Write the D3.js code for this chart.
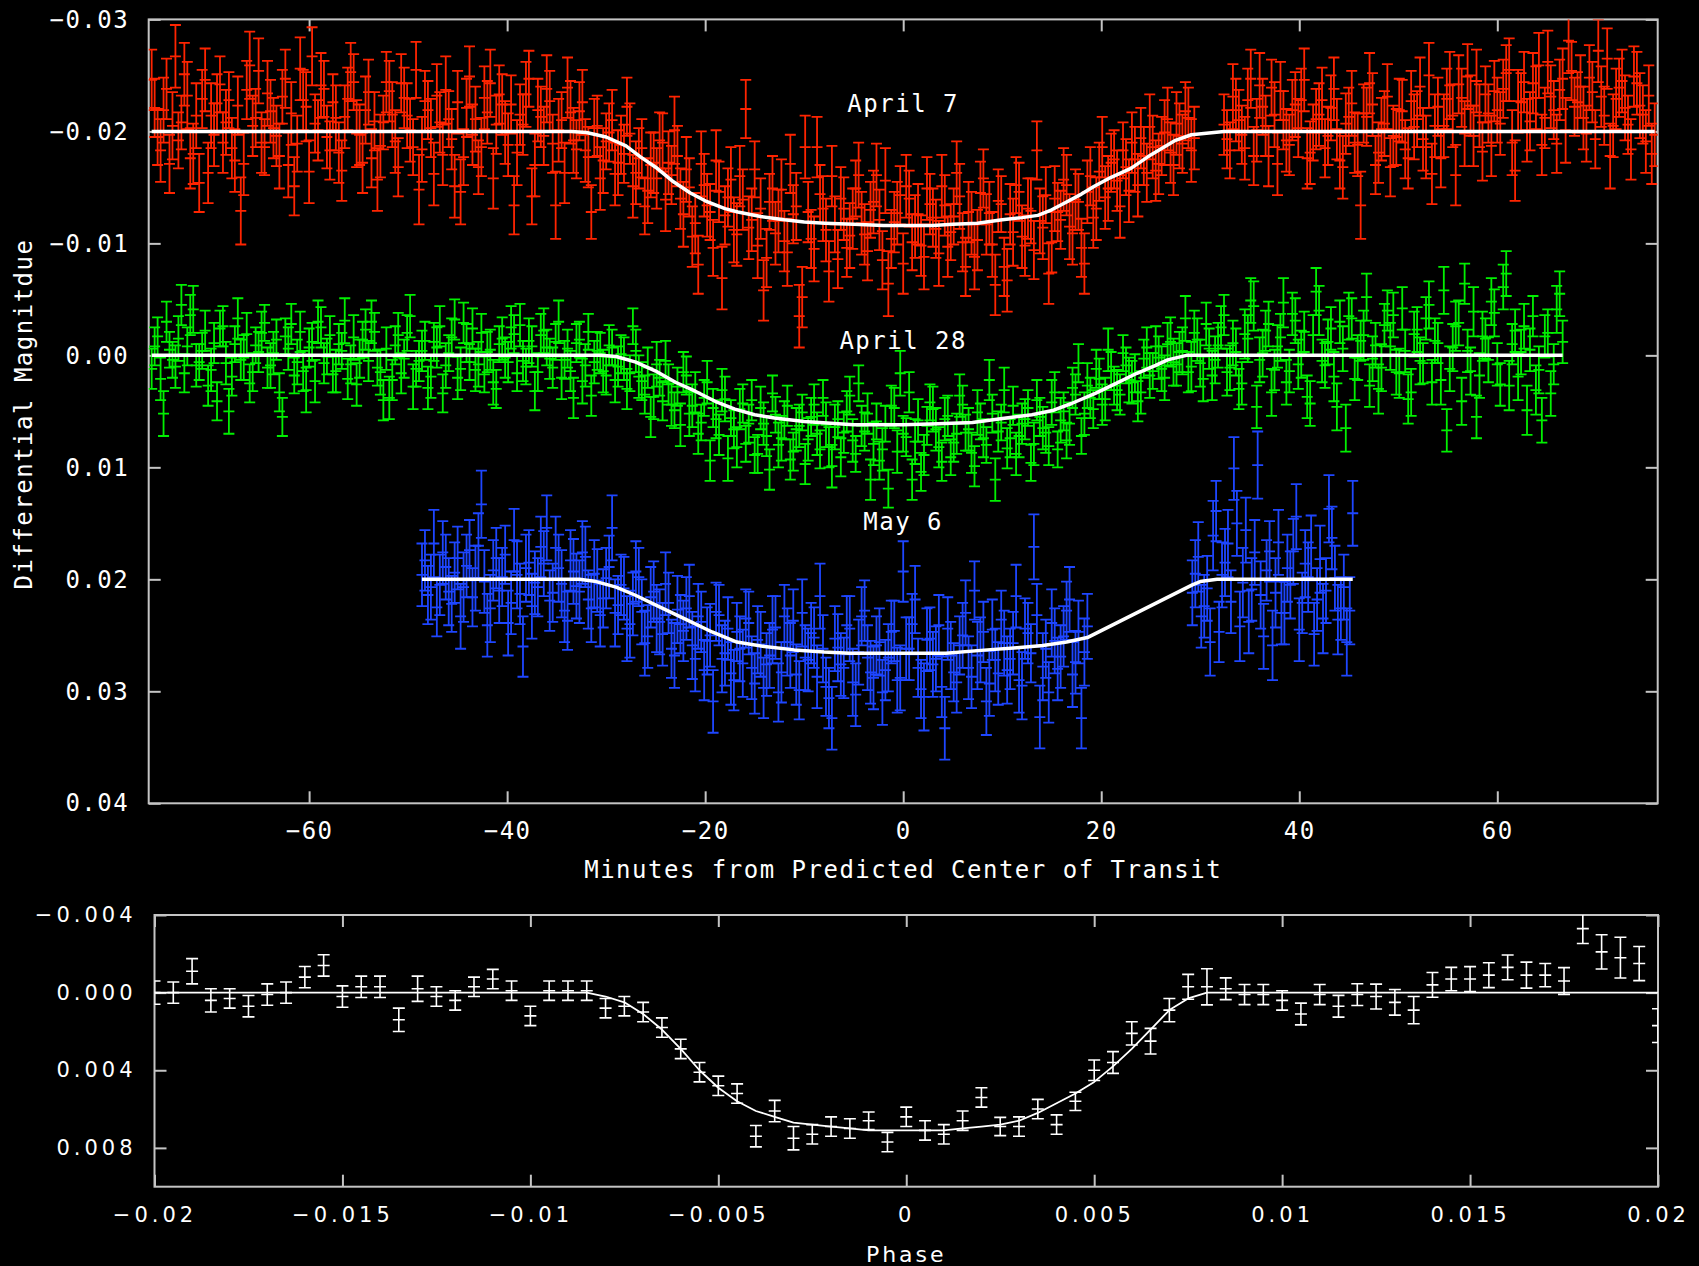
<!DOCTYPE html>
<html>
<head>
<meta charset="utf-8">
<script src="https://cdn.jsdelivr.net/npm/d3@7"></script>
<style>
html, body { margin: 0; padding: 0; background: #000; }
svg { display: block; }
</style>
</head>
<body>
<svg id="chart" width="1699" height="1266"></svg>
<script>
// ---- data (magnitudes and errors in units of 0.0001 mag) ----
// each night has two interleaved frame sets (A and B)

// April 7
var redTime = [
-75.9,-75.3,-74.7,-74.1,-73.5,-72.9,-72.3,-71.7,-71.1,-70.5,
-69.9,-69.3,-68.7,-68.1,-67.5,-66.9,-66.3,-65.7,-65.1,-64.5,
-63.9,-63.3,-62.7,-62.1,-61.5,-60.9,-60.3,-59.7,-59.1,-58.5,
-57.9,-57.3,-56.7,-56.1,-55.5,-54.9,-54.3,-53.7,-53.1,-52.5,
-51.9,-51.3,-50.7,-50.1,-49.5,-48.9,-48.3,-47.7,-47.1,-46.5,
-45.9,-45.3,-44.7,-44.1,-43.5,-42.9,-42.3,-41.7,-41.1,-40.5,
-39.9,-39.3,-38.7,-38.1,-37.5,-36.9,-36.3,-35.7,-35.1,-34.5,
-33.9,-33.3,-32.7,-32.1,-31.5,-30.9,-30.3,-29.7,-29.1,-28.5,
-27.9,-27.3,-26.7,-26.1,-25.5,-24.9,-24.3,-23.7,-23.1,-22.5,
-21.9,-21.3,-20.7,-20.1,-19.5,-18.9,-18.3,-17.7,-17.1,-16.5,
-15.9,-15.3,-14.7,-14.1,-13.5,-12.9,-12.3,-11.7,-11.1,-10.5,
-9.9,-9.3,-8.7,-8.1,-7.5,-6.9,-6.3,-5.7,-5.1,-4.5,
-3.9,-3.3,-2.7,-2.1,-1.5,-0.9,-0.3,0.3,0.9,1.5,
2.1,2.7,3.3,3.9,4.5,5.1,5.7,6.3,6.9,7.5,
8.1,8.7,9.3,9.9,10.5,11.1,11.7,12.3,12.9,13.5,
14.1,14.7,15.3,15.9,16.5,17.1,17.7,18.3,18.9,19.5,
20.1,20.7,21.3,21.9,22.5,23.1,23.7,24.3,24.9,25.5,
26.1,26.7,27.3,27.9,28.5,29.1,
32.4,33.0,33.6,34.2,34.8,35.4,36.0,36.6,37.2,37.8,
38.4,39.0,39.6,40.2,40.8,41.4,42.0,42.6,43.2,43.8,
44.4,45.0,45.6,46.2,46.8,47.4,48.0,48.6,49.2,49.8,
50.4,51.0,51.6,52.2,52.8,53.4,54.0,54.6,55.2,55.8,
56.4,57.0,57.6,58.2,58.8,59.4,60.0,60.6,61.2,61.8,
62.4,63.0,63.6,64.2,64.8,65.4,66.0,66.6,67.2,67.8,
68.4,69.0,69.6,70.2,70.8,71.4,72.0,72.6,73.2,73.8,
74.4,75.0,75.6
];
var redMag = [
-246,-195,-219,-171,-267,-208,-232,-180,-154,-246,
-214,-225,-190,-228,-174,-129,-237,-205,-254,-186,
-218,-196,-231,-170,-151,-256,-222,-267,-201,-238,
-183,-212,-165,-229,-244,-197,-219,-176,-157,-208,
-236,-191,-243,-214,-186,-148,-227,-203,-232,-179,
-211,-151,-146,-221,-197,-168,-230,-243,-206,-224,
-188,-134,-215,-233,-142,-219,-196,-227,-134,-210,
-239,-192,-218,-183,-128,-205,-174,-199,-162,-188,
-222,-151,-176,-133,-170,-158,-190,-172,-201,-140,
-166,-106,-81,-152,-128,-174,-69,-141,-112,-160,
-220,-121,-98,-58,-137,-109,-148,-92,-126,-35,
-186,-104,-186,-131,-75,-117,-140,-96,-122,-161,
-108,-130,-161,-85,-64,-119,-143,-151,-101,-126,
-88,-135,-113,-151,-97,-124,-142,-79,-118,-103,
-158,-127,-63,-135,-67,-110,-146,-98,-129,-183,
-114,-73,-140,-121,-152,-109,-137,-82,-160,-131,
-186,-149,-175,-133,-168,-190,-152,-178,-204,-165,
-187,-211,-170,-196,-218,-183,
-206,-183,-219,-197,-228,-178,-241,-205,-239,-171,
-210,-188,-224,-228,-176,-199,-215,-185,-221,-202,
-168,-213,-190,-134,-213,-224,-181,-207,-168,-195,
-218,-176,-204,-240,-186,-162,-222,-205,-241,-161,
-230,-249,-196,-214,-233,-187,-219,-238,-255,-165,
-226,-201,-243,-259,-212,-231,-189,-247,-281,-222,
-240,-198,-235,-272,-214,-178,-229,-245,-206,-249,
-223,-191,-180
];
var redErr = [
27,25,29,26,28,24,30,27,26,28,
29,26,27,25,28,30,26,27,29,25,
28,27,24,29,26,28,31,26,27,25,
26,29,27,28,25,27,30,26,28,24,
27,28,26,29,25,31,27,26,28,27,
25,28,29,26,27,24,28,30,26,27,
28,26,27,29,25,28,26,27,30,25,
27,29,26,28,24,27,29,26,28,26,
26,28,27,25,29,27,26,28,30,27,
29,27,26,28,25,27,28,26,29,27,
26,28,29,27,25,28,27,30,26,28,
28,26,27,29,27,25,28,26,27,29,
27,25,28,26,29,27,26,28,25,27,
29,27,26,28,27,25,29,26,28,27,
26,28,27,25,28,30,26,27,29,26,
28,27,29,26,27,28,25,27,26,28,
27,29,26,28,25,27,28,26,29,27,
26,28,27,29,26,28,27,25,28,26,
28,26,29,27,25,28,26,27,29,28,
27,25,28,26,29,27,28,26,27,30,
26,28,27,29,26,25,28,27,29,26,
28,27,26,28,30,27,26,29,27,28,
25,27,29,26,28,27,26,28,27,29,
27,28,26,27,29,26,28,25,27,28,
26,29,27,28,26,27,29,28,27
];
var redTimeB = [
-75.6,-75.0,-74.4,-73.8,-73.2,-72.6,-72.0,-71.4,-70.8,-70.2,
-69.6,-69.0,-68.4,-67.8,-67.2,-66.6,-66.0,-65.4,-64.8,-64.2,
-63.6,-63.0,-62.4,-61.8,-61.2,-60.6,-60.0,-59.4,-58.8,-58.2,
-57.6,-57.0,-56.4,-55.8,-55.2,-54.6,-54.0,-53.4,-52.8,-52.2,
-51.6,-51.0,-50.4,-49.8,-49.2,-48.6,-48.0,-47.4,-46.8,-46.2,
-45.6,-45.0,-44.4,-43.8,-43.2,-42.6,-42.0,-41.4,-40.8,-40.2,
-39.6,-39.0,-38.4,-37.8,-37.2,-36.6,-36.0,-35.4,-34.8,-34.2,
-33.6,-33.0,-32.4,-31.8,-31.2,-30.6,-30.0,-29.4,-28.8,-28.2,
-27.6,-27.0,-26.4,-25.8,-25.2,-24.6,-24.0,-23.4,-22.8,-22.2,
-21.6,-21.0,-20.4,-19.8,-19.2,-18.6,-18.0,-17.4,-16.8,-16.2,
-15.6,-15.0,-14.4,-13.8,-13.2,-12.6,-12.0,-11.4,-10.8,-10.2,
-9.6,-9.0,-8.4,-7.8,-7.2,-6.6,-6.0,-5.4,-4.8,-4.2,
-3.6,-3.0,-2.4,-1.8,-1.2,-0.6,0.0,0.6,1.2,1.8,
2.4,3.0,3.6,4.2,4.8,5.4,6.0,6.6,7.2,7.8,
8.4,9.0,9.6,10.2,10.8,11.4,12.0,12.6,13.2,13.8,
14.4,15.0,15.6,16.2,16.8,17.4,18.0,18.6,19.2,19.8,
20.4,21.0,21.6,22.2,22.8,23.4,24.0,24.6,25.2,25.8,
26.4,27.0,27.6,28.2,28.8,29.4,
32.7,33.3,33.9,34.5,35.1,35.7,36.3,36.9,37.5,38.1,
38.7,39.3,39.9,40.5,41.1,41.7,42.3,42.9,43.5,44.1,
44.7,45.3,45.9,46.5,47.1,47.7,48.3,48.9,49.5,50.1,
50.7,51.3,51.9,52.5,53.1,53.7,54.3,54.9,55.5,56.1,
56.7,57.3,57.9,58.5,59.1,59.7,60.3,60.9,61.5,62.1,
62.7,63.3,63.9,64.5,65.1,65.7,66.3,66.9,67.5,68.1,
68.7,69.3,69.9,70.5,71.1,71.7,72.3,72.9,73.5,74.1,
74.7,75.3,75.9
];
var redMagB = [
-221,-183,-238,-205,-192,-251,-176,-214,-229,-163,
-197,-242,-208,-185,-223,-171,-259,-212,-190,-234,
-203,-178,-247,-216,-189,-228,-164,-207,-241,-195,
-226,-181,-213,-253,-198,-172,-235,-209,-187,-244,
-215,-168,-230,-201,-255,-184,-219,-162,-208,-237,
-193,-226,-177,-249,-211,-186,-217,-158,-233,-199,
-224,-181,-206,-247,-170,-213,-238,-189,-201,-163,
-217,-184,-226,-177,-203,-158,-191,-210,-172,-180,
-198,-163,-185,-147,-172,-192,-139,-161,-178,-126,
-150,-118,-171,-134,-96,-146,-125,-157,-108,-139,
-114,-166,-131,-87,-149,-120,-102,-171,-133,-52,
-128,-95,-144,-112,-160,-86,-131,-107,-149,-118,
-93,-137,-121,-156,-104,-127,-82,-140,-115,-98,
-149,-123,-91,-134,-110,-163,-101,-128,-88,-145,
-117,-99,-138,-79,-126,-152,-106,-131,-94,-120,
-143,-101,-128,-157,-115,-139,-96,-146,-123,-164,
-141,-172,-156,-183,-147,-175,-194,-163,-186,-171,
-199,-181,-207,-189,-212,-194,
-193,-231,-210,-185,-247,-201,-222,-178,-215,-236,
-192,-219,-203,-246,-181,-211,-228,-196,-238,-174,
-207,-225,-188,-216,-243,-170,-202,-231,-196,-219,
-184,-227,-211,-193,-250,-205,-176,-229,-214,-242,
-198,-223,-245,-182,-216,-236,-207,-252,-190,-227,
-244,-209,-230,-188,-262,-219,-237,-201,-254,-226,
-212,-248,-193,-231,-265,-205,-239,-221,-184,-243,
-215,-232,-197
];
var redErrB = [
26,28,27,30,25,28,27,29,26,27,
28,25,29,27,26,28,30,26,27,29,
27,29,26,28,25,27,28,26,29,28,
25,27,28,26,30,27,29,26,28,27,
29,26,27,28,25,29,26,28,27,30,
27,28,25,27,29,26,28,27,26,28,
26,29,27,25,28,27,30,26,28,27,
28,26,29,27,26,28,25,27,29,26,
27,28,26,29,27,25,28,26,27,29,
26,27,29,28,25,27,26,29,28,27,
28,25,27,26,29,28,27,26,30,27,
27,29,26,28,27,26,28,29,25,28,
26,28,27,29,26,28,27,25,28,27,
28,26,29,27,25,28,26,27,29,28,
27,29,28,26,27,25,28,27,26,29,
25,27,26,28,29,27,26,28,27,26,
28,26,27,25,28,29,27,26,28,27,
29,27,28,26,27,28,26,29,27,28,
26,28,25,27,29,26,28,27,26,28,
28,27,29,26,28,25,27,29,28,26,
27,26,28,29,27,28,26,27,25,28,
29,28,26,27,28,26,29,27,28,26,
26,27,28,25,29,28,27,26,28,27,
28,26,27,29,26,27,28,29,26,27,
27,28,26,29,27,28,26,27,28
];
var redModelTime = [-75.9,-33.5,-32,-30,-28,-26.5,-25,-23.2,-21.5,-20,-18,-16.7,-14.4,-12,-10,-7.9,-5,-2,0,3,5,7.5,10,12,13.6,15,16.5,18,19.3,21,23,25,27.5,29.1,32.4,75.9];
var redModelMag = [-200,-200,-199,-195,-187,-177,-168,-155,-145,-138,-131,-128,-124,-121,-119,-118,-117,-116,-116,-116,-117,-118,-121,-123,-125,-130,-137,-144,-151,-159,-167,-179,-192,-197,-200,-200];

// April 28
var greenTime = [
-75.9,-75.3,-74.7,-74.1,-73.5,-72.9,-72.3,-71.7,-71.1,-70.5,
-69.9,-69.3,-68.7,-68.1,-67.5,-66.9,-66.3,-65.7,-65.1,-64.5,
-63.9,-63.3,-62.7,-62.1,-61.5,-60.9,-60.3,-59.7,-59.1,-58.5,
-57.9,-57.3,-56.7,-56.1,-55.5,-54.9,-54.3,-53.7,-53.1,-52.5,
-51.9,-51.3,-50.7,-50.1,-49.5,-48.9,-48.3,-47.7,-47.1,-46.5,
-45.9,-45.3,-44.7,-44.1,-43.5,-42.9,-42.3,-41.7,-41.1,-40.5,
-39.9,-39.3,-38.7,-38.1,-37.5,-36.9,-36.3,-35.7,-35.1,-34.5,
-33.9,-33.3,-32.7,-32.1,-31.5,-30.9,-30.3,-29.7,-29.1,-28.5,
-27.9,-27.3,-26.7,-26.1,-25.5,-24.9,-24.3,-23.7,-23.1,-22.5,
-21.9,-21.3,-20.7,-20.1,-19.5,-18.9,-18.3,-17.7,-17.1,-16.5,
-15.9,-15.3,-14.7,-14.1,-13.5,-12.9,-12.3,-11.7,-11.1,-10.5,
-9.9,-9.3,-8.7,-8.1,-7.5,-6.9,-6.3,-5.7,-5.1,-4.5,
-3.9,-3.3,-2.7,-2.1,-1.5,-0.9,-0.3,0.3,0.9,1.5,
2.1,2.7,3.3,3.9,4.5,5.1,5.7,6.3,6.9,7.5,
8.1,8.7,9.3,9.9,10.5,11.1,11.7,12.3,12.9,13.5,
14.1,14.7,15.3,15.9,16.5,17.1,17.7,18.3,18.9,19.5,
20.1,20.7,21.3,21.9,22.5,23.1,23.7,24.3,24.9,25.5,
26.1,26.7,27.3,27.9,28.5,29.1,29.7,30.3,30.9,31.5,
32.1,32.7,33.3,33.9,34.5,35.1,35.7,36.3,36.9,37.5,
38.1,38.7,39.3,39.9,40.5,41.1,41.7,42.3,42.9,43.5,
44.1,44.7,45.3,45.9,46.5,47.1,47.7,48.3,48.9,49.5,
50.1,50.7,51.3,51.9,52.5,53.1,53.7,54.3,54.9,55.5,
56.1,56.7,57.3,57.9,58.5,59.1,59.7,60.3,60.9,61.5,
62.1,62.7,63.3,63.9,64.5,65.1,65.7,66.3
];
var greenMag = [
12,-17,52,-5,10,-45,-8,-41,6,-22,
13,41,-26,50,-10,4,-19,15,-3,-29,
9,-14,55,-6,18,-21,31,-12,-30,7,
-18,14,-4,21,-16,3,-23,-30,11,40,
38,-9,16,-20,28,5,-13,19,-7,34,
-2,-32,12,-11,-24,8,17,-5,30,-15,
6,-19,-27,10,-8,15,-22,3,-12,20,
-6,38,-14,9,36,-4,14,-9,22,-1,
30,-26,19,35,55,8,41,26,49,62,
18,45,70,38,94,57,31,92,66,48,
79,40,88,61,102,53,74,45,86,63,
97,55,70,38,82,64,91,50,76,25,
68,111,59,84,119,47,16,73,111,58,
89,42,66,95,54,78,36,69,87,51,
74,22,111,60,83,45,72,57,96,40,
65,81,33,58,76,29,7,52,38,12,
44,-5,27,35,9,24,41,3,18,-8,
12,-10,6,-3,-33,10,-14,21,-6,4,
-25,15,-11,30,-19,-49,46,-2,-28,13,
-16,24,-37,8,-21,43,-57,5,-12,19,
-30,65,-33,2,-18,27,-9,11,-40,-36,
16,-4,33,-23,7,-45,-13,22,67,-7,
-29,-64,14,55,-17,4,-38,26,-73,-10,
19,-26,-5,31,58,-20,8,-55
];
var greenErr = [
18,17,20,16,19,18,17,21,16,18,
19,17,18,20,16,18,19,17,18,16,
20,18,17,19,16,18,20,17,19,18,
17,19,16,18,20,17,18,19,16,18,
19,17,18,16,20,18,17,19,18,17,
16,18,19,17,18,20,16,18,17,19,
18,17,19,16,18,17,20,18,16,19,
17,18,16,19,18,17,19,18,20,17,
18,16,19,17,18,20,17,18,16,19,
17,19,18,16,18,17,19,20,17,18,
16,18,17,19,18,16,20,18,17,19,
18,17,19,16,18,20,17,18,19,16,
17,18,16,19,17,18,20,17,18,19,
18,16,19,17,18,17,19,16,18,20,
17,18,19,16,18,17,19,18,16,18,
19,17,18,20,16,18,17,19,18,17,
18,19,17,18,16,19,18,17,20,18,
20,19,21,18,20,22,19,20,18,21,
19,21,20,18,22,20,19,21,20,18,
21,20,19,22,18,20,21,19,20,22,
19,21,18,20,22,19,20,21,18,20,
22,19,21,20,18,21,20,22,19,21,
20,18,21,19,22,20,21,19,20,18,
21,20,19,22,20,21,18,20
];
var greenTimeB = [
-75.6,-75.0,-74.4,-73.8,-73.2,-72.6,-72.0,-71.4,-70.8,-70.2,
-69.6,-69.0,-68.4,-67.8,-67.2,-66.6,-66.0,-65.4,-64.8,-64.2,
-63.6,-63.0,-62.4,-61.8,-61.2,-60.6,-60.0,-59.4,-58.8,-58.2,
-57.6,-57.0,-56.4,-55.8,-55.2,-54.6,-54.0,-53.4,-52.8,-52.2,
-51.6,-51.0,-50.4,-49.8,-49.2,-48.6,-48.0,-47.4,-46.8,-46.2,
-45.6,-45.0,-44.4,-43.8,-43.2,-42.6,-42.0,-41.4,-40.8,-40.2,
-39.6,-39.0,-38.4,-37.8,-37.2,-36.6,-36.0,-35.4,-34.8,-34.2,
-33.6,-33.0,-32.4,-31.8,-31.2,-30.6,-30.0,-29.4,-28.8,-28.2,
-27.6,-27.0,-26.4,-25.8,-25.2,-24.6,-24.0,-23.4,-22.8,-22.2,
-21.6,-21.0,-20.4,-19.8,-19.2,-18.6,-18.0,-17.4,-16.8,-16.2,
-15.6,-15.0,-14.4,-13.8,-13.2,-12.6,-12.0,-11.4,-10.8,-10.2,
-9.6,-9.0,-8.4,-7.8,-7.2,-6.6,-6.0,-5.4,-4.8,-4.2,
-3.6,-3.0,-2.4,-1.8,-1.2,-0.6,0.0,0.6,1.2,1.8,
2.4,3.0,3.6,4.2,4.8,5.4,6.0,6.6,7.2,7.8,
8.4,9.0,9.6,10.2,10.8,11.4,12.0,12.6,13.2,13.8,
14.4,15.0,15.6,16.2,16.8,17.4,18.0,18.6,19.2,19.8,
20.4,21.0,21.6,22.2,22.8,23.4,24.0,24.6,25.2,25.8,
26.4,27.0,27.6,28.2,28.8,29.4,
30.0,30.6,31.2,31.8,32.4,33.0,33.6,34.2,34.8,35.4,
36.0,36.6,37.2,37.8,38.4,39.0,39.6,40.2,40.8,41.4,
42.0,42.6,43.2,43.8,44.4,45.0,45.6,46.2,46.8,47.4,
48.0,48.6,49.2,49.8,50.4,51.0,51.6,52.2,52.8,53.4,
54.0,54.6,55.2,55.8,56.4,57.0,57.6,58.2,58.8,59.4,
60.0,60.6,61.2,61.8,62.4,63.0,63.6,64.2,64.8,65.4,
66.0,66.6
];
var greenMagB = [
-8,21,-30,4,-15,16,-36,9,-4,27,
-11,-24,7,19,-33,2,25,-9,-20,11,
-2,33,-17,-28,6,14,-7,23,-25,1,
17,-10,-31,8,26,-14,5,-21,15,-6,
22,-18,3,-35,12,-4,29,-12,-26,9,
-16,20,-29,6,13,-20,-3,24,-10,2,
-25,16,5,-13,32,-18,-7,11,-30,4,
14,-11,23,-21,6,-2,18,-7,10,3,
16,-4,23,11,37,20,5,44,28,15,
52,33,60,24,47,71,39,56,82,43,
61,89,47,72,34,80,58,93,66,51,
75,44,84,62,99,57,69,36,88,63,
52,79,94,61,45,86,70,33,77,104,
63,48,82,57,91,70,44,66,99,59,
80,52,68,31,74,88,61,47,79,55,
69,42,84,50,61,35,72,27,48,21,
39,14,31,-2,22,16,33,-7,14,2,
20,-12,8,-4,15,-20,
7,-28,18,-9,-36,11,-3,25,-15,-44,
4,-22,33,-8,-47,14,-31,-1,37,-18,
-40,9,-24,46,-6,-35,21,-13,-52,3,
30,-27,-8,15,-42,39,-19,5,-33,24,
-11,-58,12,-26,41,-4,-39,18,-15,-48,
8,-61,27,-22,-3,49,-35,13,-17,34,
-41,-12
];
var greenErrB = [
17,19,18,16,20,17,18,19,16,18,
18,16,19,17,18,20,17,16,19,18,
19,17,16,18,20,18,17,19,18,16,
16,18,20,17,19,16,18,17,20,19,
18,20,17,19,16,18,19,17,18,20,
17,19,18,16,19,17,18,20,16,18,
19,16,18,20,17,19,16,18,19,17,
18,17,20,16,19,18,17,16,18,19,
16,19,17,18,20,16,18,19,17,18,
20,18,16,19,17,18,20,16,18,17,
17,16,19,18,16,20,17,18,19,16,
19,18,17,20,19,16,18,17,16,18,
18,19,17,16,18,19,16,18,20,17,
17,20,18,19,16,18,17,19,18,16,
16,17,18,20,17,19,18,16,19,17,
18,20,16,17,19,18,16,20,17,18,
19,17,18,16,20,17,19,18,16,19,
20,22,19,21,18,20,21,19,22,20,
18,20,21,19,21,22,20,18,21,19,
22,19,20,21,19,18,22,20,19,21,
20,21,19,18,21,20,22,19,21,20,
19,22,20,21,19,20,18,21,20,22,
21,19,22,20,18,21,19,20,22,19,
20,22,18,21,19,20,21,19
];
var greenModelTime = [-75.9,-30.5,-29,-27,-25,-23,-21,-19,-17,-15,-13,-10,-5,0,3.5,7,10.4,13,15.2,17,19.4,21.5,23.6,25.5,26.7,28.6,66.6];
var greenModelMag = [0,0,1,6,14,24,32,41,48,53,56,59,62,62,61,60,56,53,49,43,34,25,16,9,4,0,0];

// May 6
var blueTime = [
-48.6,-48.0,-47.4,-46.8,-46.2,-45.6,-45.0,-44.4,-43.8,-43.2,
-42.6,-42.0,-41.4,-40.8,-40.2,-39.6,-39.0,-38.4,-37.8,-37.2,
-36.6,-36.0,-35.4,-34.8,-34.2,-33.6,-33.0,-32.4,-31.8,-31.2,
-30.6,-30.0,-29.4,-28.8,-28.2,-27.6,-27.0,-26.4,-25.8,-25.2,
-24.6,-24.0,-23.4,-22.8,-22.2,-21.6,-21.0,-20.4,-19.8,-19.2,
-18.6,-18.0,-17.4,-16.8,-16.2,-15.6,-15.0,-14.4,-13.8,-13.2,
-12.6,-12.0,-11.4,-10.8,-10.2,-9.6,-9.0,-8.4,-7.8,-7.2,
-6.6,-6.0,-5.4,-4.8,-4.2,-3.6,-3.0,-2.4,-1.8,-1.2,
-0.6,0.0,0.6,1.2,1.8,2.4,3.0,3.6,4.2,4.8,
5.4,6.0,6.6,7.2,7.8,8.4,9.0,9.6,10.2,10.8,
11.4,12.0,12.6,13.2,13.8,14.4,15.0,15.6,16.2,16.8,
17.4,18.0,18.6,
29.2,29.8,30.4,31.0,31.6,32.2,32.8,33.4,34.0,34.6,
35.2,35.8,36.4,37.0,37.6,38.2,38.8,39.4,40.0,40.6,
41.2,41.8,42.4,43.0,43.6,44.2,44.8,45.4
];
var blueMag = [
196,214,168,205,189,222,181,207,174,199,
133,241,192,210,178,221,196,260,185,203,
171,154,212,190,228,183,206,176,218,195,
232,199,154,223,208,240,193,229,251,211,
238,204,262,227,246,215,271,238,255,309,
232,266,284,247,275,239,293,258,276,245,
301,233,268,285,230,272,252,215,296,324,
261,279,244,303,233,270,288,256,281,247,
290,193,262,218,298,254,276,241,333,268,
292,250,279,210,263,309,245,284,257,271,
215,295,248,171,323,262,239,280,251,218,
274,324,242,
212,180,224,256,139,196,168,101,242,156,
209,98,251,175,212,230,190,175,245,186,
172,218,235,137,199,226,256,141
];
var blueErr = [
28,26,30,27,29,25,28,31,27,29,
30,28,27,29,26,28,30,27,29,28,
27,29,26,30,28,27,29,28,26,30,
28,27,29,26,28,30,27,29,28,27,
29,28,26,30,27,28,29,27,30,28,
27,29,28,26,30,28,27,29,28,30,
26,28,29,27,30,28,27,29,26,28,
30,27,29,28,26,29,28,30,27,28,
29,27,28,30,26,28,29,27,28,30,
27,29,28,26,29,30,27,28,29,27,
28,30,27,29,28,26,30,28,27,29,
28,27,29,
29,31,28,30,27,29,30,28,31,29,
28,30,29,27,31,28,30,29,28,30,
29,28,31,30,29,28,30,29
];
var blueTimeB = [
-48.3,-47.7,-47.1,-46.5,-45.9,-45.3,-44.7,-44.1,-43.5,-42.9,
-42.3,-41.7,-41.1,-40.5,-39.9,-39.3,-38.7,-38.1,-37.5,-36.9,
-36.3,-35.7,-35.1,-34.5,-33.9,-33.3,-32.7,-32.1,-31.5,-30.9,
-30.3,-29.7,-29.1,-28.5,-27.9,-27.3,-26.7,-26.1,-25.5,-24.9,
-24.3,-23.7,-23.1,-22.5,-21.9,-21.3,-20.7,-20.1,-19.5,-18.9,
-18.3,-17.7,-17.1,-16.5,-15.9,-15.3,-14.7,-14.1,-13.5,-12.9,
-12.3,-11.7,-11.1,-10.5,-9.9,-9.3,-8.7,-8.1,-7.5,-6.9,
-6.3,-5.7,-5.1,-4.5,-3.9,-3.3,-2.7,-2.1,-1.5,-0.9,
-0.3,0.3,0.9,1.5,2.1,2.7,3.3,3.9,4.5,5.1,
5.7,6.3,6.9,7.5,8.1,8.7,9.3,9.9,10.5,11.1,
11.7,12.3,12.9,13.5,14.1,14.7,15.3,15.9,16.5,17.1,
17.7,18.3,
29.5,30.1,30.7,31.3,31.9,32.5,33.1,33.7,34.3,34.9,
35.5,36.1,36.7,37.3,37.9,38.5,39.1,39.7,40.3,40.9,
41.5,42.1,42.7,43.3,43.9,44.5,45.1
];
var blueMagB = [
183,207,225,176,211,194,233,188,216,170,
202,226,181,198,239,165,213,190,224,207,
186,219,172,204,237,193,211,180,226,201,
217,189,230,205,244,222,198,257,216,235,
249,221,268,240,226,259,233,281,250,229,
271,244,290,262,235,279,254,297,268,243,
283,256,237,299,270,248,287,262,306,253,
276,241,292,265,228,283,259,301,270,246,
288,262,240,279,305,253,271,296,244,283,
259,230,287,268,247,293,272,236,281,257,
290,244,266,232,278,301,255,269,228,285,
247,265,
195,233,208,161,247,185,220,150,203,238,
176,214,192,259,167,230,205,144,221,198,
249,182,210,163,236,207,228
];
var blueErrB = [
27,29,26,28,30,27,29,28,26,29,
28,30,27,26,29,28,27,30,29,26,
29,27,28,30,26,29,28,27,30,28,
26,28,30,27,29,28,26,29,27,30,
28,27,29,26,28,30,29,27,28,26,
30,28,27,29,26,28,30,27,29,28,
27,30,28,26,29,27,28,30,27,29,
28,26,30,29,27,28,26,29,30,27,
29,28,27,26,30,28,29,27,28,26,
26,29,28,30,27,29,28,26,30,28,
29,27,26,28,30,27,29,28,26,29,
28,30,
30,28,29,31,27,30,28,29,31,28,
29,30,27,31,29,28,30,29,27,31,
28,30,29,28,31,29,30
];
var blueModelTime = [-48.6,-32.7,-31,-29,-27.1,-24.5,-21.9,-19.3,-16.8,-14,-11,-8,-5.4,0,4.3,8.5,11.5,14.1,16.5,18.6,29.2,30.0,31.7,45.4];
var blueModelMag = [200,200,202,207,214,225,236,247,256,260,263,265,266,266,266,263,261,259,256,252,205,202,200,200];

// phased, binned light curve
var phaseBin = [
-0.02,-0.0195,-0.019,-0.0185,-0.018,-0.0175,-0.017,-0.0165,-0.016,-0.0155,
-0.015,-0.0145,-0.014,-0.0135,-0.013,-0.0125,-0.012,-0.0115,-0.011,-0.0105,
-0.01,-0.0095,-0.009,-0.0085,-0.008,-0.0075,-0.007,-0.0065,-0.006,-0.0055,
-0.005,-0.0045,-0.004,-0.0035,-0.003,-0.0025,-0.002,-0.0015,-0.001,-0.0005,
0,0.0005,0.001,0.0015,0.002,0.0025,0.003,0.0035,0.004,0.0045,
0.005,0.0055,0.006,0.0065,0.007,0.0075,0.008,0.0085,0.009,0.0095,
0.01,0.0105,0.011,0.0115,0.012,0.0125,0.013,0.0135,0.014,0.0145,
0.015,0.0155,0.016,0.0165,0.017,0.0175,0.018,0.0185,0.019,0.0195,
0.02
];
var phaseMag = [
0,0,-11,4,3,7,1,0,-8,-14,
2,-3,-3,14,-2,2,4,-3,-7,-1,
12,-1,-1,-1,8,7,10,18,29,41,
48,52,74,61,75,73,69,70,66,77,
64,71,73,66,54,69,69,60,68,56,
40,36,21,25,9,-3,-3,-2,1,1,
4,11,1,7,1,2,5,9,-4,-7,
-7,-9,-13,-9,-9,-6,-33,-21,-18,-15,
17
];
var phaseErr = [
6,5.5,6.5,6,5,5.5,5.5,5.5,5.5,5.5,
5.5,5.5,5.5,6,6.5,5,5,5,5,5,
5,5,5,5,5,5,5,5,5,5,
5,5,5.5,5.5,6,5,5,5,4.5,5,
5,5,5,5,5,4.7,5,5,5,4.7,
5.3,5.6,6,6.6,6,6.4,9.3,5.6,5.2,5.2,
5,5.6,5.2,5.6,5.6,6.4,6.6,7,6.4,6,
6.4,6.4,6.4,6.7,6,6.9,7.7,8.8,10.5,8.8,
8.7
];
var phaseModel = [-0.02,-0.0085,-0.008,-0.0075,-0.007,-0.0065,-0.006,-0.0055,-0.005,-0.0045,-0.004,-0.0035,-0.003,-0.0025,-0.002,-0.0015,-0.001,0,0.001,0.0015,0.002,0.0025,0.003,0.0035,0.004,0.0045,0.005,0.0055,0.006,0.0065,0.007,0.0075,0.008,0.02];
var phaseModelMag = [0,0,2,5,11,19,29,40,49,56,61,64,67,68,69,70,71,71,71,70,69,68,66,62,57,52,46,38,29,19,9,3,0,0];

var minuteTicks = [-60,-40,-20,0,20,40,60];
var magTicks = [-0.03,-0.02,-0.01,0,0.01,0.02,0.03,0.04];
var phaseTicks = [-0.02,-0.015,-0.01,-0.005,0,0.005,0.01,0.015,0.02];
var phaseMagTicks = [-0.004,0,0.004,0.008];

// ---- drawing ----
var UNIT = 1e-4;
var frameColor = '#c4c4c4';
var monoFont = '"DejaVu Sans Mono", "Liberation Mono", monospace';
var sansFont = '"DejaVu Sans", "Liberation Sans", sans-serif';

var svg = d3.select('#chart');
svg.append('rect').attr('width', 1699).attr('height', 1266).attr('fill', '#000');

var p1 = {left: 148.7, right: 1657.7, top: 19.4, bottom: 803.3};
var p2 = {left: 154.5, right: 1658, top: 915, bottom: 1186.7};

var x1 = d3.scaleLinear().domain([-76.2, 76.2]).range([p1.left, p1.right]);
var y1 = d3.scaleLinear().domain([-0.03, 0.04]).range([p1.top, p1.bottom]);
var x2 = d3.scaleLinear().domain([-0.02, 0.02]).range([p2.left, p2.right]);
var y2 = d3.scaleLinear().domain([-0.004, 0.01]).range([p2.top, p2.bottom]);

var defs = svg.append('defs');
defs.append('clipPath').attr('id', 'clip1').append('rect')
    .attr('x', p1.left).attr('y', p1.top)
    .attr('width', p1.right - p1.left).attr('height', p1.bottom - p1.top);
defs.append('clipPath').attr('id', 'clip2').append('rect')
    .attr('x', p2.left).attr('y', p2.top)
    .attr('width', p2.right - p2.left).attr('height', p2.bottom - p2.top);

function styleAxis(g, font, size, spacing) {
    g.select('.domain').remove();
    g.attr('font-family', font).attr('font-size', size);
    g.selectAll('.tick line').attr('stroke', frameColor).attr('stroke-width', 2);
    g.selectAll('.tick text').attr('fill', '#fff').style('letter-spacing', spacing);
}

function drawAxes(p, x, y, xt, yt, xfmt, yfmt, font, size, spacing, xpad, ypad) {
    var tick = -12;
    var gb = svg.append('g').attr('transform', 'translate(0,' + p.bottom + ')')
        .call(d3.axisBottom(x).tickValues(xt).tickSizeInner(tick).tickSizeOuter(0).tickPadding(xpad).tickFormat(xfmt));
    styleAxis(gb, font, size, spacing);
    var gt = svg.append('g').attr('transform', 'translate(0,' + p.top + ')')
        .call(d3.axisTop(x).tickValues(xt).tickSizeInner(tick).tickSizeOuter(0).tickFormat(''));
    styleAxis(gt, font, size, spacing);
    var gl = svg.append('g').attr('transform', 'translate(' + p.left + ',0)')
        .call(d3.axisLeft(y).tickValues(yt).tickSizeInner(tick).tickSizeOuter(0).tickPadding(ypad).tickFormat(yfmt));
    styleAxis(gl, font, size, spacing);
    var gr = svg.append('g').attr('transform', 'translate(' + p.right + ',0)')
        .call(d3.axisRight(y).tickValues(yt).tickSizeInner(tick).tickSizeOuter(0).tickFormat(''));
    styleAxis(gr, font, size, spacing);
    svg.append('rect')
        .attr('x', p.left).attr('y', p.top)
        .attr('width', p.right - p.left).attr('height', p.bottom - p.top)
        .attr('fill', 'none').attr('stroke', frameColor).attr('stroke-width', 2);
}

// error bars: vertical line, caps at both ends and a tick at the value
function drawBars(layer, x, y, t, m, e, color, cap, width) {
    var rows = t.map(function(d, i) { return {t: d, m: m[i] * UNIT, e: e[i] * UNIT}; });
    layer.append('g').selectAll('path').data(rows).enter().append('path')
        .attr('d', function(d) {
            var px = x(d.t), y0 = y(d.m - d.e), y9 = y(d.m + d.e), yc = y(d.m);
            return 'M' + px + ',' + y0 + 'V' + y9 +
                'M' + (px - cap) + ',' + y0 + 'H' + (px + cap) +
                'M' + (px - cap) + ',' + y9 + 'H' + (px + cap) +
                'M' + (px - cap) + ',' + yc + 'H' + (px + cap);
        })
        .attr('fill', 'none').attr('stroke', color).attr('stroke-width', width);
}

function drawModel(layer, x, y, t, m, width) {
    var line = d3.line().x(function(d) { return x(d[0]); }).y(function(d) { return y(d[1] * UNIT); });
    layer.append('path')
        .datum(t.map(function(d, i) { return [d, m[i]]; }))
        .attr('d', line)
        .attr('fill', 'none').attr('stroke', '#fff').attr('stroke-width', width)
        .attr('stroke-linejoin', 'round');
}

// top panel
drawAxes(p1, x1, y1, minuteTicks, magTicks, d3.format('d'), d3.format('.2f'),
    monoFont, 24, '1.5px', 19, 19.5);

var layer1 = svg.append('g').attr('clip-path', 'url(#clip1)');
drawBars(layer1, x1, y1, redTime, redMag, redErr, '#ff2400', 5.5, 1.8);
drawBars(layer1, x1, y1, redTimeB, redMagB, redErrB, '#ff2400', 5.5, 1.8);
drawModel(layer1, x1, y1, redModelTime, redModelMag, 3.5);
drawBars(layer1, x1, y1, greenTime, greenMag, greenErr, '#00f000', 5.5, 1.8);
drawBars(layer1, x1, y1, greenTimeB, greenMagB, greenErrB, '#00f000', 5.5, 1.8);
drawModel(layer1, x1, y1, greenModelTime, greenModelMag, 3.5);
drawBars(layer1, x1, y1, blueTime, blueMag, blueErr, '#1e46ff', 5.5, 1.8);
drawBars(layer1, x1, y1, blueTimeB, blueMagB, blueErrB, '#1e46ff', 5.5, 1.8);
drawModel(layer1, x1, y1, blueModelTime, blueModelMag, 3.5);

function label(text, x, y, font, size, spacing, rotate) {
    var t = svg.append('text')
        .attr('x', x).attr('y', y)
        .attr('text-anchor', 'middle').attr('dominant-baseline', 'central')
        .attr('fill', '#fff')
        .style('font-family', font).style('font-size', size + 'px')
        .style('letter-spacing', spacing)
        .text(text);
    if (rotate) t.attr('transform', 'rotate(' + rotate + ',' + x + ',' + y + ')');
    return t;
}

label('April 7', x1(0), 104, monoFont, 24, '1.5px');
label('April 28', x1(0), 341, monoFont, 24, '1.5px');
label('May 6', x1(0), 522, monoFont, 24, '1.5px');
label('Minutes from Predicted Center of Transit', (p1.left + p1.right) / 2, 870, monoFont, 24, '1.5px');
label('Differential Magnitdue', 24, 414, monoFont, 24, '1.5px', -90);

// bottom panel
drawAxes(p2, x2, y2, phaseTicks, phaseMagTicks, d3.format('~g'), d3.format('.3f'),
    sansFont, 21, '4px', 20, 18);

var layer2 = svg.append('g').attr('clip-path', 'url(#clip2)');
drawBars(layer2, x2, y2, phaseBin, phaseMag, phaseErr, '#ffffff', 6, 1.6);
drawModel(layer2, x2, y2, phaseModel, phaseModelMag, 1.8);

label('Phase', (p2.left + p2.right) / 2, 1254, sansFont, 22, '3px');
</script>
</body>
</html>
